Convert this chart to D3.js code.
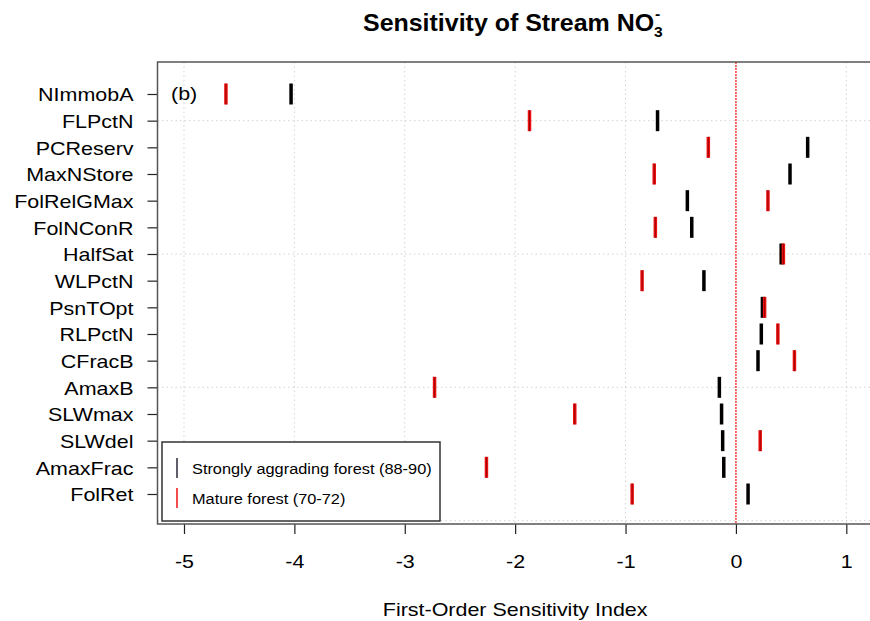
<!DOCTYPE html>
<html>
<head>
<meta charset="utf-8">
<script src="https://cdn.jsdelivr.net/npm/d3@7"></script>
<style>
  body { margin: 0; background: #fff; }
  text { font-family: "Liberation Sans", Arial, sans-serif; }
</style>
</head>
<body>
<div id="chart"></div>
<script>
// data
const params = ["NImmobA", "FLPctN", "PCReserv", "MaxNStore", "FolRelGMax", "FolNConR",
  "HalfSat", "WLPctN", "PsnTOpt", "RLPctN", "CFracB", "AmaxB", "SLWmax", "SLWdel",
  "AmaxFrac", "FolRet"];
const aggrading = [-4.03, -0.71, 0.65, 0.49, -0.44, -0.40, 0.41, -0.29, 0.24, 0.23,
  0.20, -0.15, -0.13, -0.12, -0.11, 0.11];
const mature = [-4.62, -1.87, -0.25, -0.74, 0.29, -0.73, 0.43, -0.85, 0.26, 0.38,
  0.53, -2.73, -1.46, 0.22, -2.26, -0.94];
const xTicks = [-5, -4, -3, -2, -1, 0, 1];
const yGrid = [0, 5, 10, 15];
const legendLabels = ["Strongly aggrading forest (88-90)", "Mature forest (70-72)"];

let w = 870, h = 621;
let stretch = 1.13;   // glyphs in the picture are a bit wider than the font
let yTop = 62, yBottom = 524;

let svg = d3.select("#chart")
  .append("svg")
    .attr("width", w)
    .attr("height", h);

// scales
let xScale = d3.scaleLinear()
  .domain([-5.24, 1.24])
  .range([157.5, 872.8]);
let yScale = d3.scalePoint()
  .domain(params)
  .range([94, 494]);
// row number, 1 at the bottom, for the grid
let yNum = d3.scaleLinear()
  .domain([1, 16])
  .range([494, 94]);

let x0 = xScale.range()[0], x1 = xScale.range()[1];

// grid
svg.append("g")
  .selectAll("line")
  .data(xTicks)
  .join("line")
    .attr("x1", d => xScale(d)).attr("x2", d => xScale(d))
    .attr("y1", yTop).attr("y2", yBottom)
    .attr("stroke", "#d3d3d3")
    .attr("stroke-dasharray", "1.5,3");
svg.append("g")
  .selectAll("line")
  .data(yGrid)
  .join("line")
    .attr("x1", x0).attr("x2", x1)
    .attr("y1", d => yNum(d)).attr("y2", d => yNum(d))
    .attr("stroke", "#d3d3d3")
    .attr("stroke-dasharray", "1.5,3");

// zero line
svg.append("line")
  .attr("x1", xScale(0)).attr("x2", xScale(0))
  .attr("y1", yTop).attr("y2", yBottom)
  .attr("stroke", "#ff4a4a")
  .attr("stroke-width", 1.6)
  .attr("stroke-dasharray", "2,1");

// marks
let half = 10.5;
svg.append("g")
  .selectAll("line")
  .data(params)
  .join("line")
    .attr("x1", (d, i) => xScale(aggrading[i])).attr("x2", (d, i) => xScale(aggrading[i]))
    .attr("y1", d => yScale(d) - half).attr("y2", d => yScale(d) + half)
    .attr("stroke", "#000")
    .attr("stroke-width", 3.5);
let red = svg.append("g");
red.selectAll("line.r")
  .data(params)
  .join("line")
    .attr("class", "r")
    .attr("x1", (d, i) => xScale(mature[i])).attr("x2", (d, i) => xScale(mature[i]))
    .attr("y1", d => yScale(d) - half).attr("y2", d => yScale(d) + half)
    .attr("stroke", "#ee1010")
    .attr("stroke-width", 3.5);
red.selectAll("line.c")
  .data(params)
  .join("line")
    .attr("class", "c")
    .attr("x1", (d, i) => xScale(mature[i])).attr("x2", (d, i) => xScale(mature[i]))
    .attr("y1", d => yScale(d) - half).attr("y2", d => yScale(d) + half)
    .attr("stroke", "#8a0000")
    .attr("stroke-width", 0.8);

// axes
let xAxis = d3.axisBottom(xScale)
  .tickValues(xTicks)
  .tickFormat(d => d < 0 ? "-" + Math.abs(d) : d)
  .tickSize(10)
  .tickSizeOuter(0)
  .tickPadding(21);
let gx = svg.append("g")
  .attr("transform", "translate(0," + yBottom + ")")
  .call(xAxis);
gx.select(".domain").remove();
gx.selectAll(".tick line").attr("stroke", "#222").attr("stroke-width", 1.2);
gx.selectAll("text")
  .attr("font-size", "19px")
  .attr("font-family", "Liberation Sans, Arial, sans-serif")
  .attr("fill", "#000")
  .attr("transform", "scale(" + stretch + ",1)");

let yAxis = d3.axisLeft(yScale)
  .tickSize(10)
  .tickSizeOuter(0)
  .tickPadding(14);
let gy = svg.append("g")
  .attr("transform", "translate(" + x0 + ",0)")
  .call(yAxis);
gy.select(".domain").remove();
gy.selectAll(".tick line").attr("stroke", "#222").attr("stroke-width", 1.2);
gy.selectAll("text")
  .attr("font-size", "19px")
  .attr("font-family", "Liberation Sans, Arial, sans-serif")
  .attr("fill", "#000")
  .attr("dy", "0.36em")
  .attr("transform", function() {
    let t = d3.select(this);
    return "translate(" + t.attr("x") + ",0) scale(" + stretch + ",1) translate(" + (-t.attr("x")) + ",0)";
  });

// box
svg.append("rect")
  .attr("x", x0).attr("y", yTop)
  .attr("width", x1 - x0).attr("height", yBottom - yTop)
  .attr("fill", "none")
  .attr("stroke", "#555")
  .attr("stroke-width", 1.5);

// labels
function label(x, y, txt, size, anchor, weight, sx) {
  return svg.append("text")
    .attr("transform", "translate(" + x + "," + y + ") scale(" + (sx || stretch) + ",1)")
    .attr("text-anchor", anchor)
    .attr("font-size", size + "px")
    .attr("font-weight", weight || "normal")
    .text(txt);
}
let title = label(363, 31, "Sensitivity of Stream NO", 24, "start", "bold", 1.04);
title.append("tspan").attr("dy", 6).attr("font-size", "15px").text("3");
title.append("tspan").attr("dx", -7.5).attr("dy", -18).attr("font-size", "15px").text("-");

label(xScale(-2), 616, "First-Order Sensitivity Index", 19, "middle");
label(171, 100, "(b)", 19, "start");

// legend
let lg = svg.append("g");
lg.append("rect")
  .attr("x", 162).attr("y", 442)
  .attr("width", 278).attr("height", 79)
  .attr("fill", "#fff")
  .attr("stroke", "#333")
  .attr("stroke-width", 1.5);
let lgColors = ["#2a2a3a", "#ee1010"];
legendLabels.forEach((t, i) => {
  let cy = 468 + i * 30;
  lg.append("line")
    .attr("x1", 177).attr("x2", 177)
    .attr("y1", cy - 10).attr("y2", cy + 10)
    .attr("stroke", lgColors[i])
    .attr("stroke-width", 1.5);
  lg.append("text")
    .attr("transform", "translate(192," + (cy + 5.5) + ") scale(1.09,1)")
    .attr("font-size", "15px")
    .text(t);
});
</script>
</body>
</html>
